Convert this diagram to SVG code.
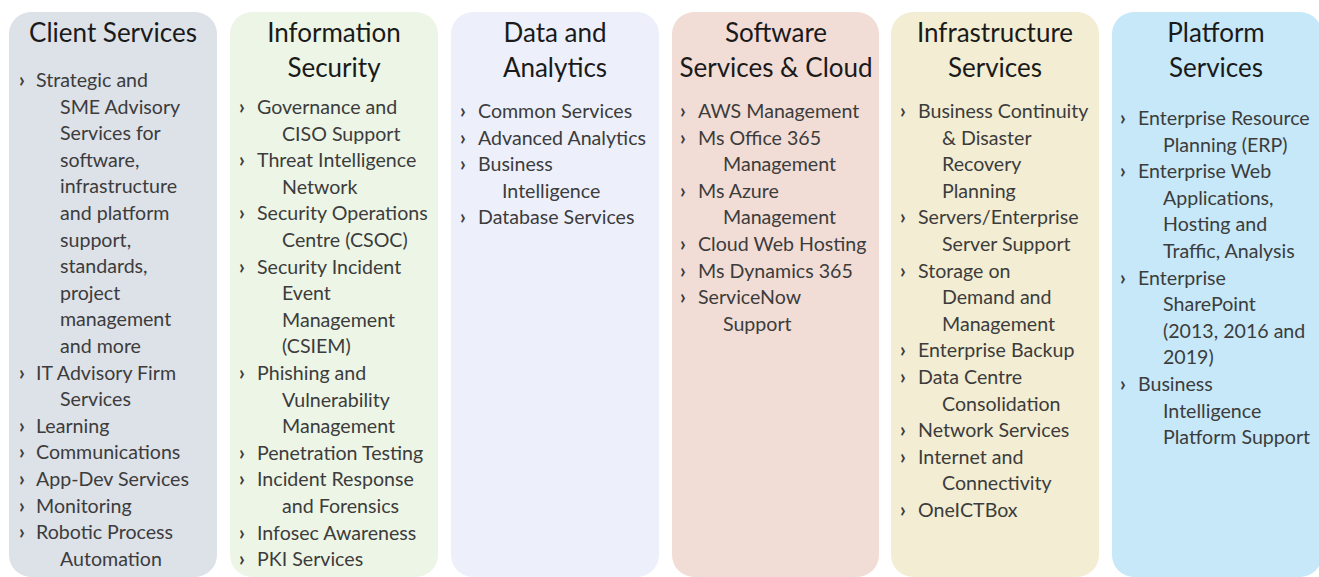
<svg xmlns="http://www.w3.org/2000/svg" width="1319" height="577" viewBox="0 0 1319 577">
<style>
.box{stroke:none}
.t{font-family:Lato,"Liberation Sans",sans-serif;font-size:26px;fill:#1a1a1a;text-anchor:middle}
.i{font-family:Lato,"Liberation Sans",sans-serif;font-size:19.6px;fill:#3c3c3c}
.b{font-family:Lato,"Liberation Sans",sans-serif;font-size:20px;font-weight:bold;fill:#3c3c3c}
</style>
<rect width="1319" height="577" fill="#ffffff"/>
<g id="client-services">
<rect class="box" x="9" y="12" width="208" height="565" rx="22" fill="#dde1e8"/>
<text class="t" x="113" y="42">Client Services</text>
<text class="b" x="19" y="87">›</text><text class="i" x="36" y="87">Strategic and</text>
<text class="i" x="60" y="113.6">SME Advisory</text>
<text class="i" x="60" y="140.2">Services for</text>
<text class="i" x="60" y="166.8">software,</text>
<text class="i" x="60" y="193.4">infrastructure</text>
<text class="i" x="60" y="220">and platform</text>
<text class="i" x="60" y="246.6">support,</text>
<text class="i" x="60" y="273.2">standards,</text>
<text class="i" x="60" y="299.8">project</text>
<text class="i" x="60" y="326.4">management</text>
<text class="i" x="60" y="353">and more</text>
<text class="b" x="19" y="379.6">›</text><text class="i" x="36" y="379.6">IT Advisory Firm</text>
<text class="i" x="60" y="406.2">Services</text>
<text class="b" x="19" y="432.8">›</text><text class="i" x="36" y="432.8">Learning</text>
<text class="b" x="19" y="459.4">›</text><text class="i" x="36" y="459.4">Communications</text>
<text class="b" x="19" y="486">›</text><text class="i" x="36" y="486">App-Dev Services</text>
<text class="b" x="19" y="512.6">›</text><text class="i" x="36" y="512.6">Monitoring</text>
<text class="b" x="19" y="539.2">›</text><text class="i" x="36" y="539.2">Robotic Process</text>
<text class="i" x="60" y="565.8">Automation</text>
</g>
<g id="information-security">
<rect class="box" x="230" y="12" width="208" height="565" rx="22" fill="#edf5e6"/>
<text class="t" x="334" y="42">Information</text>
<text class="t" x="334" y="77">Security</text>
<text class="b" x="239" y="114">›</text><text class="i" x="257" y="114">Governance and</text>
<text class="i" x="282" y="140.6">CISO Support</text>
<text class="b" x="239" y="167.2">›</text><text class="i" x="257" y="167.2">Threat Intelligence</text>
<text class="i" x="282" y="193.8">Network</text>
<text class="b" x="239" y="220.4">›</text><text class="i" x="257" y="220.4">Security Operations</text>
<text class="i" x="282" y="247">Centre (CSOC)</text>
<text class="b" x="239" y="273.6">›</text><text class="i" x="257" y="273.6">Security Incident</text>
<text class="i" x="282" y="300.2">Event</text>
<text class="i" x="282" y="326.8">Management</text>
<text class="i" x="282" y="353.4">(CSIEM)</text>
<text class="b" x="239" y="380">›</text><text class="i" x="257" y="380">Phishing and</text>
<text class="i" x="282" y="406.6">Vulnerability</text>
<text class="i" x="282" y="433.2">Management</text>
<text class="b" x="239" y="459.8">›</text><text class="i" x="257" y="459.8">Penetration Testing</text>
<text class="b" x="239" y="486.4">›</text><text class="i" x="257" y="486.4">Incident Response</text>
<text class="i" x="282" y="513">and Forensics</text>
<text class="b" x="239" y="539.6">›</text><text class="i" x="257" y="539.6">Infosec Awareness</text>
<text class="b" x="239" y="566.2">›</text><text class="i" x="257" y="566.2">PKI Services</text>
</g>
<g id="data-and-analytics">
<rect class="box" x="451" y="12" width="208" height="565" rx="22" fill="#edf0fb"/>
<text class="t" x="555" y="42">Data and</text>
<text class="t" x="555" y="77">Analytics</text>
<text class="b" x="460" y="118">›</text><text class="i" x="478" y="118">Common Services</text>
<text class="b" x="460" y="144.6">›</text><text class="i" x="478" y="144.6">Advanced Analytics</text>
<text class="b" x="460" y="171.2">›</text><text class="i" x="478" y="171.2">Business</text>
<text class="i" x="502" y="197.8">Intelligence</text>
<text class="b" x="460" y="224.4">›</text><text class="i" x="478" y="224.4">Database Services</text>
</g>
<g id="software-services-cloud">
<rect class="box" x="672" y="12" width="207" height="565" rx="22" fill="#f2ddd6"/>
<text class="t" x="776" y="42">Software</text>
<text class="t" x="776" y="77">Services &amp; Cloud</text>
<text class="b" x="680" y="118">›</text><text class="i" x="698" y="118">AWS Management</text>
<text class="b" x="680" y="144.6">›</text><text class="i" x="698" y="144.6">Ms Office 365</text>
<text class="i" x="723" y="171.2">Management</text>
<text class="b" x="680" y="197.8">›</text><text class="i" x="698" y="197.8">Ms Azure</text>
<text class="i" x="723" y="224.4">Management</text>
<text class="b" x="680" y="251">›</text><text class="i" x="698" y="251">Cloud Web Hosting</text>
<text class="b" x="680" y="277.6">›</text><text class="i" x="698" y="277.6">Ms Dynamics 365</text>
<text class="b" x="680" y="304.2">›</text><text class="i" x="698" y="304.2">ServiceNow</text>
<text class="i" x="723" y="330.8">Support</text>
</g>
<g id="infrastructure-services">
<rect class="box" x="891" y="12" width="208" height="565" rx="22" fill="#f3edd3"/>
<text class="t" x="995" y="42">Infrastructure</text>
<text class="t" x="995" y="77">Services</text>
<text class="b" x="900" y="118">›</text><text class="i" x="918" y="118">Business Continuity</text>
<text class="i" x="942" y="144.6">&amp; Disaster</text>
<text class="i" x="942" y="171.2">Recovery</text>
<text class="i" x="942" y="197.8">Planning</text>
<text class="b" x="900" y="224.4">›</text><text class="i" x="918" y="224.4">Servers/Enterprise</text>
<text class="i" x="942" y="251">Server Support</text>
<text class="b" x="900" y="277.6">›</text><text class="i" x="918" y="277.6">Storage on</text>
<text class="i" x="942" y="304.2">Demand and</text>
<text class="i" x="942" y="330.8">Management</text>
<text class="b" x="900" y="357.4">›</text><text class="i" x="918" y="357.4">Enterprise Backup</text>
<text class="b" x="900" y="384">›</text><text class="i" x="918" y="384">Data Centre</text>
<text class="i" x="942" y="410.6">Consolidation</text>
<text class="b" x="900" y="437.2">›</text><text class="i" x="918" y="437.2">Network Services</text>
<text class="b" x="900" y="463.8">›</text><text class="i" x="918" y="463.8">Internet and</text>
<text class="i" x="942" y="490.4">Connectivity</text>
<text class="b" x="900" y="517">›</text><text class="i" x="918" y="517">OneICTBox</text>
</g>
<g id="platform-services">
<rect class="box" x="1112" y="12" width="210" height="565" rx="22" fill="#c6e8f8"/>
<text class="t" x="1216" y="42">Platform</text>
<text class="t" x="1216" y="77">Services</text>
<text class="b" x="1120" y="125">›</text><text class="i" x="1138" y="125">Enterprise Resource</text>
<text class="i" x="1163" y="151.6">Planning (ERP)</text>
<text class="b" x="1120" y="178.2">›</text><text class="i" x="1138" y="178.2">Enterprise Web</text>
<text class="i" x="1163" y="204.8">Applications,</text>
<text class="i" x="1163" y="231.4">Hosting and</text>
<text class="i" x="1163" y="258">Traffic, Analysis</text>
<text class="b" x="1120" y="284.6">›</text><text class="i" x="1138" y="284.6">Enterprise</text>
<text class="i" x="1163" y="311.2">SharePoint</text>
<text class="i" x="1163" y="337.8">(2013, 2016 and</text>
<text class="i" x="1163" y="364.4">2019)</text>
<text class="b" x="1120" y="391">›</text><text class="i" x="1138" y="391">Business</text>
<text class="i" x="1163" y="417.6">Intelligence</text>
<text class="i" x="1163" y="444.2">Platform Support</text>
</g>
<g id="connectors"/>
</svg>
